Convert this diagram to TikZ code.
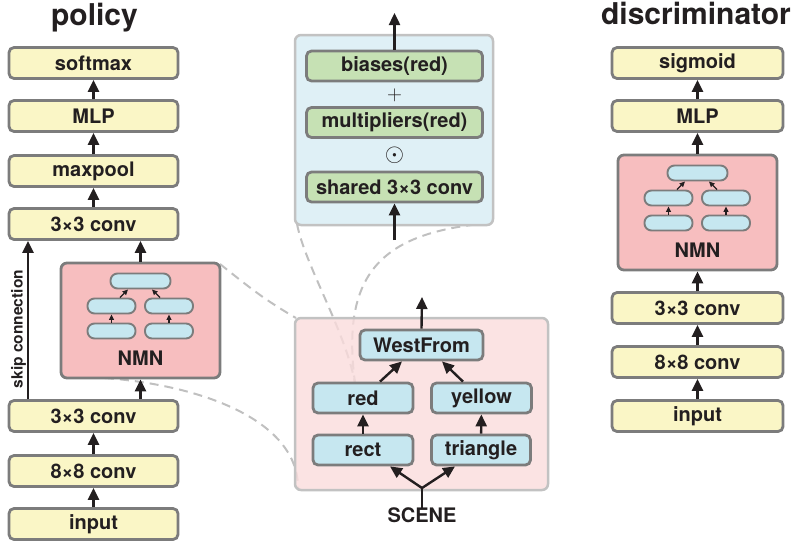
\documentclass[tikz,border=0pt]{standalone}
\usepackage{fontspec}
\setmainfont{TeX Gyre Heros}
\usetikzlibrary{arrows.meta,calc}
\definecolor{boxyellow}{HTML}{FAF6C6}
\definecolor{nmnpink}{HTML}{F7BEBF}
\definecolor{pillblue}{HTML}{C6E7F0}
\definecolor{scenepink}{HTML}{FADCDC}
\definecolor{panelblue}{HTML}{DFF0F6}
\definecolor{boxgreen}{HTML}{C6E1B4}
\definecolor{bordergray}{HTML}{7C7C7C}
\definecolor{lightborder}{HTML}{C2C2C2}
\definecolor{dashgray}{HTML}{C0C0C0}
\definecolor{textdark}{HTML}{231F20}
\newcommand\myboxfont{\fontsize{20}{20}\selectfont\bfseries}
\newcommand\mytitlefont{\fontsize{30}{30}\selectfont\bfseries}
\newcommand\myskipfont{\fontsize{15.5}{15.5}\selectfont\bfseries}
\tikzset{
  ybox/.style={draw=bordergray, line width=2.8pt, rounded corners=5pt, fill=boxyellow,
    minimum width=169pt, minimum height=31pt, inner sep=0pt, font=\myboxfont, text=textdark},
  gbox/.style={ybox, fill=boxgreen, minimum width=176pt, minimum height=30pt},
  bpill/.style={ybox, fill=pillblue, minimum height=30pt},
  nmnbox/.style={draw=bordergray, line width=2.8pt, rounded corners=6pt, fill=nmnpink,
    minimum width=159pt, minimum height=115pt, inner sep=0pt},
  panel/.style={draw=lightborder, line width=2.5pt, rounded corners=6pt, inner sep=0pt},
  ipill/.style={draw=bordergray, line width=1.9pt, rounded corners=7pt, fill=pillblue,
    minimum height=15pt, inner sep=0pt},
  arr/.style={line width=2.4pt, draw=textdark, -{Triangle[length=12pt,width=11pt]}},
  sarr/.style={line width=1.3pt, draw=textdark, -{Triangle[length=5.5pt,width=5pt]}},
  plainline/.style={line width=2.4pt, draw=textdark},
  dashline/.style={draw=dashgray, line width=2pt, dash pattern=on 9pt off 6pt},
  lbl/.style={font=\myboxfont, text=textdark, inner sep=0pt},
  nmnicon/.pic={
    \node[ipill, minimum width=60pt] (-t) at (0,18) {};
    \node[ipill, minimum width=48pt] (-ml) at (-29,43) {};
    \node[ipill, minimum width=48pt] (-mr) at (28.5,43) {};
    \node[ipill, minimum width=48pt] (-bl) at (-29,68) {};
    \node[ipill, minimum width=48pt] (-br) at (28.5,68) {};
    \draw[sarr] (-bl.north) -- (-ml.south);
    \draw[sarr] (-br.north) -- (-mr.south);
    \draw[sarr] ([xshift=8.5pt]-ml.north) -- ([xshift=-12.5pt]-t.south);
    \draw[sarr] ([xshift=-9pt]-mr.north) -- ([xshift=11.5pt]-t.south);
    \node[lbl] (-lab) at (0,95) {NMN};
  }
}
\begin{document}
\begin{tikzpicture}[x=1pt,y=-1pt]
\useasboundingbox (0,0) rectangle (797,546);

% titles
\node[font=\mytitlefont, text=textdark, anchor=base, inner sep=0pt] (ptitle) at (94.5,25) {policy};
\node[font=\mytitlefont, text=textdark, anchor=base, inner sep=0pt] (dtitle) at (696,24) {discriminator};

% ---------- policy column ----------
\node[ybox] (psoft) at (93.5,63) {softmax};
\node[ybox] (pmlp) at (93.5,116) {MLP};
\node[ybox] (pmax) at (93.5,171) {maxpool};
\node[ybox] (pconvB) at (93.5,224) {3×3 conv};
\node[ybox] (pconvA) at (93.5,416) {3×3 conv};
\node[ybox] (p88) at (93.5,471) {8×8 conv};
\node[ybox] (pin) at (93.5,524) {input};

\coordinate (scenec) at (421.5,404);
\coordinate (bluec) at (394,130);

% dashed zoom lines
\coordinate (nmnNE) at (220,264);
\coordinate (nmnS) at (105,378);
\draw[dashline] (nmnNE) .. controls (250,288) and (265,300) .. (296,318);
\draw[dashline] (nmnS) .. controls (200,385) and (300,420) .. (298,490);
\draw[dashline] (297,224) .. controls (305,265) and (345,330) .. (355,383);
\draw[dashline] (490,223) .. controls (385,232) and (340,270) .. (355,383);

\node[nmnbox] (pnmn) at (140.5,320.5) {};
\pic (pic1) at (140.5,263) {nmnicon};

\node[panel, fill=scenepink, fill opacity=0.8, minimum width=253pt, minimum height=172pt] (scene) at (scenec) {};
\node[panel, fill=panelblue, minimum width=198pt, minimum height=190pt] (blue) at (bluec) {};

% policy arrows
\draw[arr] (pin) -- (p88);
\draw[arr] (p88) -- (pconvA);
\draw[arr] (pconvA.north -| pnmn.south) -- (pnmn.south);
\draw[arr] (pnmn.north) -- (pnmn.north |- pconvB.south);
\draw[arr] (pconvB) -- (pmax);
\draw[arr] (pmax) -- (pmlp);
\draw[arr] (pmlp) -- (psoft);
\coordinate (skipx) at (28,0);
\draw[arr] (pconvA.north -| skipx) -- (pconvB.south -| skipx);
\node[font=\myskipfont, text=textdark, rotate=90, inner sep=0pt] (skiplbl) at (18.5,329) {skip connection};

% ---------- blue panel content ----------
\node[gbox] (biases) at (394.5,66) {biases(red)};
\node[gbox] (mult) at (394.5,122.5) {multipliers(red)};
\node[gbox] (shared) at (394.5,187) {shared 3×3 conv};
\node[text=textdark, inner sep=0pt, font=\fontsize{22}{22}\selectfont] (plus) at (394.5,95) {$+$};
\node[text=textdark, inner sep=0pt, font=\fontsize{28}{28}\selectfont] (odot) at (394.5,155) {$\odot$};
\coordinate (topout) at (394.5,13);
\coordinate (botin) at (394.5,240);
\draw[arr] (biases.north) -- (topout);
\draw[arr] (botin) -- (shared.south);

% ---------- scene panel content ----------
\node[bpill, minimum width=123pt] (west) at (421.5,345) {WestFrom};
\node[bpill, minimum width=100pt] (red) at (363,398) {red};
\node[bpill, minimum width=100pt] (yellow) at (481.5,398) {yellow};
\node[bpill, minimum width=100pt] (rect) at (363,450) {rect};
\node[bpill, minimum width=99pt] (tri) at (481,450) {triangle};
\node[lbl, anchor=base] (scenelbl) at (422,522) {SCENE};
\coordinate (junc) at (422,488);
\coordinate (westout) at (422,297);
\draw[arr] (west.north) -- (westout);
\draw[arr] ([xshift=17pt]red.north) -- ([xshift=-19.5pt]west.south);
\draw[arr] ([xshift=-18.5pt]yellow.north) -- ([xshift=20.5pt]west.south);
\draw[arr] (rect) -- (red);
\draw[arr] (tri) -- (yellow);
\draw[plainline] ([yshift=-2pt]scenelbl.north) -- (junc);
\draw[arr] (junc) -- ([xshift=27pt]rect.south);
\draw[arr] (junc) -- ([xshift=-26pt]tri.south);

% ---------- discriminator column ----------
\node[ybox, minimum width=171pt] (dsig) at (697.5,63) {sigmoid};
\node[ybox, minimum width=171pt] (dmlp) at (697.5,116) {MLP};
\node[nmnbox] (dnmn) at (697.5,212.5) {};
\pic (pic2) at (697.5,155) {nmnicon};
\node[ybox, minimum width=171pt] (dconv) at (697.5,308) {3×3 conv};
\node[ybox, minimum width=171pt] (d88) at (697.5,362) {8×8 conv};
\node[ybox, minimum width=171pt] (din) at (697.5,416) {input};
\draw[arr] (din) -- (d88);
\draw[arr] (d88) -- (dconv);
\draw[arr] (dconv) -- (dnmn);
\draw[arr] (dnmn) -- (dmlp);
\draw[arr] (dmlp) -- (dsig);
\end{tikzpicture}
\end{document}
